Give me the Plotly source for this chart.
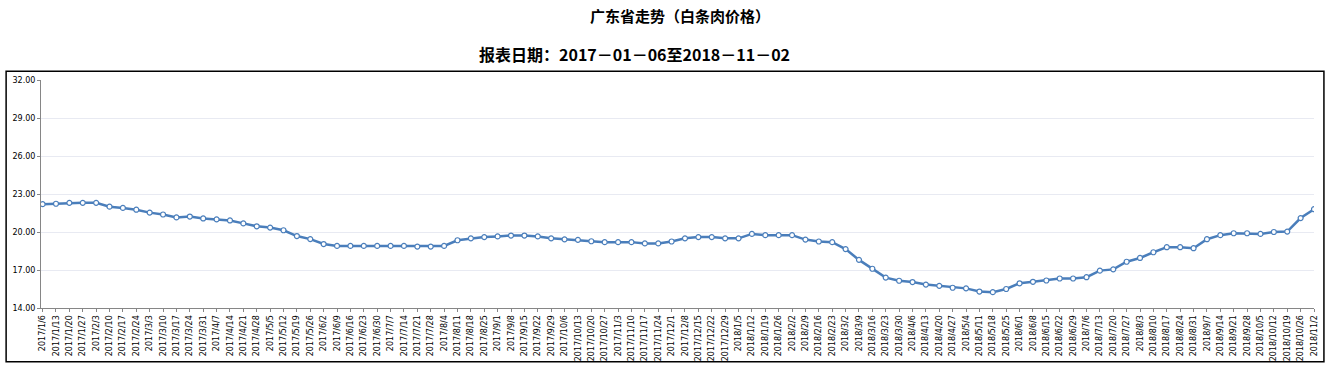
import plotly.graph_objects as go

dates = [
    "2017/1/6", "2017/1/13", "2017/1/20", "2017/1/27", "2017/2/3", "2017/2/10", "2017/2/17", "2017/2/24",
    "2017/3/3", "2017/3/10", "2017/3/17", "2017/3/24", "2017/3/31", "2017/4/7", "2017/4/14", "2017/4/21",
    "2017/4/28", "2017/5/5", "2017/5/12", "2017/5/19", "2017/5/26", "2017/6/2", "2017/6/9", "2017/6/16",
    "2017/6/23", "2017/6/30", "2017/7/7", "2017/7/14", "2017/7/21", "2017/7/28", "2017/8/4", "2017/8/11",
    "2017/8/18", "2017/8/25", "2017/9/1", "2017/9/8", "2017/9/15", "2017/9/22", "2017/9/29", "2017/10/6",
    "2017/10/13", "2017/10/20", "2017/10/27", "2017/11/3", "2017/11/10", "2017/11/17", "2017/11/24", "2017/12/1",
    "2017/12/8", "2017/12/15", "2017/12/22", "2017/12/29", "2018/1/5", "2018/1/12", "2018/1/19", "2018/1/26",
    "2018/2/2", "2018/2/9", "2018/2/16", "2018/2/23", "2018/3/2", "2018/3/9", "2018/3/16", "2018/3/23",
    "2018/3/30", "2018/4/6", "2018/4/13", "2018/4/20", "2018/4/27", "2018/5/4", "2018/5/11", "2018/5/18",
    "2018/5/25", "2018/6/1", "2018/6/8", "2018/6/15", "2018/6/22", "2018/6/29", "2018/7/6", "2018/7/13",
    "2018/7/20", "2018/7/27", "2018/8/3", "2018/8/10", "2018/8/17", "2018/8/24", "2018/8/31", "2018/9/7",
    "2018/9/14", "2018/9/21", "2018/9/28", "2018/10/5", "2018/10/12", "2018/10/19", "2018/10/26", "2018/11/2",
]

prices = [
    22.20, 22.23, 22.30, 22.30, 22.30, 22.00, 21.90, 21.76,
    21.53, 21.38, 21.15, 21.22, 21.07, 21.00, 20.91, 20.68,
    20.45, 20.35, 20.14, 19.68, 19.44, 19.05, 18.90, 18.90,
    18.90, 18.90, 18.90, 18.90, 18.85, 18.85, 18.90, 19.35,
    19.50, 19.60, 19.65, 19.72, 19.72, 19.65, 19.50, 19.42,
    19.38, 19.27, 19.20, 19.20, 19.20, 19.10, 19.10, 19.25,
    19.50, 19.60, 19.60, 19.50, 19.50, 19.85, 19.75, 19.75,
    19.75, 19.40, 19.25, 19.20, 18.65, 17.80, 17.10, 16.40,
    16.15, 16.05, 15.85, 15.75, 15.60, 15.55, 15.30, 15.25,
    15.50, 15.95, 16.07, 16.17, 16.33, 16.33, 16.43, 16.95,
    17.05, 17.65, 17.95, 18.40, 18.80, 18.80, 18.72, 19.43,
    19.75, 19.90, 19.90, 19.85, 20.00, 20.03, 21.10, 21.80,
]

y_ticks = [14, 17, 20, 23, 26, 29, 32]
y_tick_text = ["14.00", "17.00", "20.00", "23.00", "26.00", "29.00", "32.00"]

title_text = "广东省走势（白条肉价格）"
subtitle_text = "报表日期：2017－01－06至2018－11－02"

line_color = "#4A7EBB"

fig = go.Figure()
fig.add_trace(go.Scatter(
    x=list(range(len(dates))), y=prices, mode="lines+markers",
    line=dict(color=line_color, width=2.5),
    marker=dict(symbol="circle", size=5, color="white", line=dict(color=line_color, width=1.2)),
    showlegend=False,
))

tick_font = dict(family="DejaVu Sans", size=8, color="#000000")

fig.update_layout(
    width=1331, height=373,
    margin=dict(l=38, r=14, t=80, b=60),
    paper_bgcolor="white", plot_bgcolor="white",
    xaxis=dict(
        range=[-0.12, 95.0], tickmode="array", tickvals=list(range(len(dates))), ticktext=dates,
        tickangle=-90, tickfont=tick_font, showgrid=False, zeroline=False,
        showline=True, linecolor="#868686", linewidth=1,
        ticks="outside", ticklen=3, tickcolor="#868686",
    ),
    yaxis=dict(
        range=[14, 32], tickmode="array", tickvals=y_ticks, ticktext=y_tick_text,
        tickfont=tick_font, showgrid=True, gridcolor="#E8EAF2", gridwidth=1,
        zeroline=False, showline=True, linecolor="#868686", linewidth=1,
        ticks="outside", ticklen=3, tickcolor="#868686",
    ),
    annotations=[
        dict(text="<b>" + title_text + "</b>", xref="paper", yref="paper", x=0.502, y=1.283,
             xanchor="center", yanchor="middle", showarrow=False,
             font=dict(family="Noto Sans CJK SC", size=15, color="#000000")),
        dict(text="<b>" + subtitle_text + "</b>", xref="paper", yref="paper", x=0.466, y=1.112,
             xanchor="center", yanchor="middle", showarrow=False,
             font=dict(family="Noto Sans CJK SC", size=16, color="#000000")),
    ],
    shapes=[
        dict(type="rect", xref="paper", yref="paper", x0=-0.0274, x1=1.0078, y0=-0.236, y1=1.0386,
             line=dict(color="#000000", width=1.5), fillcolor="rgba(0,0,0,0)", layer="below"),
    ],
)

fig.write_html("out.html", config={"displayModeBar": False},
               post_script="document.body.style.margin='0';document.body.style.overflow='hidden';")
